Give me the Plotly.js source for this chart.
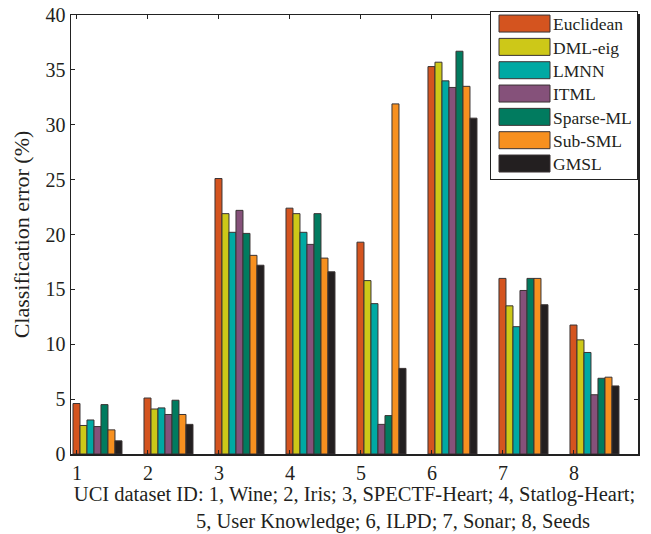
<!DOCTYPE html>
<html>
<head>
<meta charset="utf-8">
<script src="https://cdn.plot.ly/plotly-3.0.1.min.js"></script>
<style>
  html, body { margin: 0; padding: 0; background: #ffffff; }
  #chart { width: 651px; height: 534px; }
</style>
</head>
<body>
<div id="chart"></div>
<script>
// ---- data ----
const categories = ['1', '2', '3', '4', '5', '6', '7', '8'];
const methods = ['Euclidean', 'DML-eig', 'LMNN', 'ITML', 'Sparse-ML', 'Sub-SML', 'GMSL'];
const euclidean = [4.6, 5.1, 25.1, 22.4, 19.3, 35.3, 16.0, 11.75];
const dmlEig    = [2.6, 4.1, 21.9, 21.9, 15.8, 35.7, 13.5, 10.4];
const lmnn      = [3.1, 4.2, 20.2, 20.2, 13.7, 34.0, 11.6, 9.25];
const itml      = [2.5, 3.6, 22.2, 19.1, 2.7, 33.4, 14.9, 5.4];
const sparseML  = [4.5, 4.9, 20.1, 21.9, 3.5, 36.7, 16.0, 6.9];
const subSML    = [2.2, 3.6, 18.1, 17.85, 31.9, 33.5, 16.0, 7.0];
const gmsl      = [1.2, 2.7, 17.2, 16.6, 7.8, 30.6, 13.6, 6.2];
const yTicks    = [0, 5, 10, 15, 20, 25, 30, 35, 40];
const xTitleLines = [
  'UCI dataset ID: 1, Wine; 2, Iris; 3, SPECTF-Heart; 4, Statlog-Heart;',
  '5, User Knowledge; 6, ILPD; 7, Sonar; 8, Seeds'
];
const yTitle = 'Classification error (%)';

// ---- styles ----
const colors = ['#D4541F', '#CDC818', '#00A9A3', '#85517A', '#017B5F', '#F7901F', '#231F20'];
const series = [euclidean, dmlEig, lmnn, itml, sparseML, subSML, gmsl];
const FONT = 'Liberation Serif, Times New Roman, serif';
const INK = '#231F20';

const xNum = categories.map(Number);
const traces = series.map((vals, i) => ({
  type: 'bar',
  name: methods[i],
  x: xNum,
  y: vals,
  marker: { color: colors[i], line: { color: '#3a3334', width: 1 } },
  hoverinfo: 'skip'
}));

// second title line sits right of centre in the reference (leading padding)
const pad = '&nbsp;'.repeat(15);
const xTitleText = xTitleLines[0] + '<br>' + pad + xTitleLines[1];

const labelShift = -0.29;
const layout = {
  width: 651,
  height: 534,
  margin: { l: 71, r: 13, t: 11, b: 80 },
  paper_bgcolor: '#ffffff',
  plot_bgcolor: '#ffffff',
  font: { family: FONT, color: INK, size: 20 },
  barmode: 'group',
  bargap: 0.31,
  bargroupgap: 0,
  showlegend: true,
  legend: {
    x: 1, xanchor: 'right', y: 1.009, yanchor: 'top',
    bgcolor: '#ffffff', bordercolor: '#222', borderwidth: 1,
    font: { family: FONT, size: 17.5, color: INK },
    itemwidth: 52,
    tracegroupgap: 0
  },
  xaxis: {
    range: [0.627, 8.613],
    tickvals: xNum.map(v => v + labelShift),
    ticktext: categories,
    ticks: 'inside', ticklen: 4, tickcolor: '#222', tickwidth: 1,
    showline: true, linecolor: '#222', linewidth: 1.5, mirror: 'ticks',
    showgrid: false, zeroline: false,
    tickfont: { family: FONT, size: 20, color: INK },
    title: { text: xTitleText, font: { family: FONT, size: 20.5, color: INK }, standoff: 0 }
  },
  yaxis: {
    range: [0, 40],
    tickvals: yTicks,
    ticktext: yTicks.map(String),
    ticks: 'inside', ticklen: 4, tickcolor: '#222', tickwidth: 1,
    showline: true, linecolor: '#222', linewidth: 1.5, mirror: 'ticks',
    showgrid: false, zeroline: false,
    tickfont: { family: FONT, size: 20, color: INK },
    title: { text: yTitle, font: { family: FONT, size: 22, color: INK }, standoff: 10 }
  }
};

Plotly.newPlot('chart', traces, layout, { staticPlot: true, displayModeBar: false }).then(gd => {
  const leg = gd.querySelector('.legend');
  if (!leg) return;
  // widen legend swatches to match the reference's long rectangles
  const iw = 52;
  const items = leg.querySelectorAll('.traces');
  const spacing = 23.33, firstY = 12.5;
  items.forEach((tr, i) => {
    const p = tr.querySelector('.legendpoints path');
    if (p) {
      p.setAttribute('d', 'M-25.5,8.5H25.5V-8.5H-25.5Z');
      p.setAttribute('transform', 'translate(' + (iw / 2 + 7.5) + ',0)');
      p.style.strokeWidth = '1px';
    }
    const m = /translate\(\s*([-\d.eE]+)[\s,]+([-\d.eE]+)\s*\)/.exec(tr.getAttribute('transform') || '');
    const x = m ? +m[1] : 1;
    tr.setAttribute('transform', 'translate(' + x + ',' + (firstY + i * spacing) + ')');
  });
  const bg = leg.querySelector('rect.bg');
  if (bg) bg.setAttribute('height', String(firstY + (items.length - 1) * spacing + 15));
});
</script>
</body>
</html>
